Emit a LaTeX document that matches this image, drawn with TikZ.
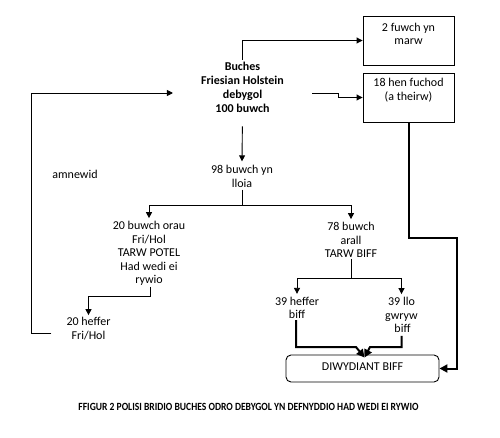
\documentclass[tikz,border=0pt]{standalone}
\usepackage{fontspec}
\setmainfont{Carlito}
\usetikzlibrary{arrows.meta,calc}
\begin{document}
\begin{tikzpicture}[x=1pt,y=-1pt,
  txt/.style={align=center,font=\fontsize{12}{13.5}\selectfont,inner sep=1pt},
  boxn/.style={draw,line width=0.9pt,inner sep=0pt},
  arr/.style={line width=0.9pt,-{Triangle[length=6pt,width=6pt]}},
  ln/.style={line width=0.9pt},
  arrT/.style={line width=2pt,-{Triangle[length=8pt,width=8pt]}}]
\useasboundingbox (0,0) rectangle (500,438);
% boxes
\node[boxn,minimum width=91pt,minimum height=49pt] (dead) at (408.5,40.5) {};
\node[txt] (deadtxt) at (408.5,34) {2 fuwch yn\\marw};
\node[boxn,minimum width=91pt,minimum height=49pt] (old) at (408.5,97.5) {};
\node[txt] (oldtxt) at (408.5,90) {18 hen fuchod\\(a theirw)};
% main
\node[txt,font=\bfseries\fontsize{12}{14}\selectfont,inner xsep=28pt,inner ysep=2pt] (main) at (242.5,87) {Buches\\Friesian Holstein\\debygol\\100 buwch};
\node[txt] (n98) at (242,176.5) {98 buwch yn\\lloia};
\node[txt] (amn) at (75,174) {amnewid};
\node[txt] (n20) at (149,253.5) {20 buwch orau\\Fri/Hol\\TARW POTEL\\Had wedi ei\\rywio};
\node[txt] (n78) at (351,240) {78 buwch\\arall\\TARW BIFF};
\node[txt] (hFH) at (88.5,328.5) {20 heffer\\Fri/Hol};
\node[txt] (h39) at (297,308) {39 heffer\\biff};
\node[txt] (l39) at (401.5,315) {39 llo\\gwryw\\\hspace*{2pt}biff};
\node[draw,line width=0.9pt,rounded corners=5pt,minimum width=153pt,minimum height=27pt,font=\fontsize{12}{13.5}\selectfont,text depth=0pt] (diw) at (362.5,368.5) {\raisebox{3pt}{DIWYDIANT BIFF}};
\node[font=\bfseries\fontsize{11}{12}\selectfont,inner sep=0pt] (cap) at (248.5,407) {\scalebox{0.87}[1]{FFIGUR 2 POLISI BRIDIO BUCHES ODRO DEBYGOL YN DEFNYDDIO HAD WEDI EI RYWIO}};
% connectors
\draw[arr] (main.north) |- (dead.west);
\draw[arr] ([yshift=-6pt]main.east) -- ++(26,0) |- (old.west);
\draw[arr] ([xshift=-14pt,yshift=-4.5pt]hFH.west) -- ++(-20,0) |- ([yshift=-6pt]main.west);
\draw[arr,shorten <=12pt] (main.south) -- ([yshift=3pt]n98.north);
\coordinate (s1) at (242,205);
\draw[ln] ([yshift=-1pt]n98.south) -- (s1);
\draw[arr] (s1) -| ([yshift=2pt]n20.north);
\draw[arr] (s1) -| ([yshift=2pt]n78.north);
\draw[arr] ([xshift=1pt]n20.south) -- ++(0,10) -| ([yshift=1pt]hFH.north);
\coordinate (s2) at (351,278);
\draw[ln] (n78.south) -- (s2);
\draw[arr] (s2) -| ([yshift=2pt]h39.north);
\draw[arr] (s2) -| ([yshift=2pt]l39.north);
\draw[arrT] ([xshift=-1pt]h39.south) |- (356,347) -- ([xshift=2pt,yshift=-3pt]diw.north);
\draw[arrT] ([yshift=-2pt]l39.south) |- (370,347) -- ([xshift=2pt,yshift=-3pt]diw.north);
\draw[arrT] (old.south) -- ++(0,116) -- ++(48,0) |- (diw.east);
\end{tikzpicture}
\end{document}
